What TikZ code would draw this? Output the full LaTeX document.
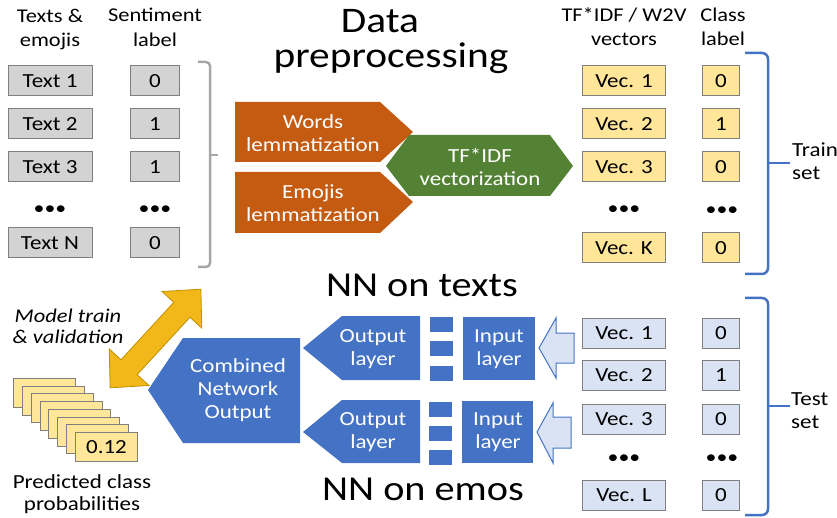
\documentclass[tikz,border=0pt]{standalone}
\usepackage{fontspec}
\setmainfont[FakeStretch=1.15]{Carlito}
\newcommand\fsz[2]{\fontsize{#1}{#2}\selectfont}
\definecolor{orng}{HTML}{C55A11}
\definecolor{grn}{HTML}{548235}
\definecolor{blu}{HTML}{4472C4}
\definecolor{lblu}{HTML}{DAE3F3}
\definecolor{ylw}{HTML}{FFE699}
\definecolor{gryf}{HTML}{D3D3D3}
\definecolor{bord}{HTML}{7F7F7F}
\definecolor{gold}{HTML}{F2B718}
\definecolor{golddk}{HTML}{BF9000}
\definecolor{brk}{HTML}{A6A6A6}
\begin{document}
\begin{tikzpicture}[x=1pt,y=-1pt,
  hdr/.style={anchor=base, inner sep=0, font=\fsz{19.5}{24}},
  big/.style={anchor=base, inner sep=0, font=\fsz{36}{40}},
  cell/.style={draw=bord, line width=1pt, minimum height=30, inner sep=0, font=\fsz{20}{22}},
  gcell/.style={cell, fill=gryf},
  ycell/.style={cell, fill=ylw},
  bcell/.style={cell, fill=lblu},
  dots/.style={inner sep=0, font=\fsz{19}{22}},
  wtxt/.style={align=center, text=white, inner sep=0, font=\fsz{20}{23}},
  sidetxt/.style={anchor=base west, inner sep=0, font=\fsz{20}{23}},
]
\useasboundingbox (0,0) rectangle (837,518);

% headers
\node[hdr] (h1a) at (50,23) {Texts \&};
\node[hdr] (h1b) at (50,47) {emojis};
\node[hdr] (h2a) at (155,22) {Sentiment};
\node[hdr] (h2b) at (155,47) {label};
\node[hdr] (h3a) at (624,22) {TF*IDF / W2V};
\node[hdr] (h3b) at (624,46) {vectors};
\node[hdr] (h4a) at (723,22) {Class};
\node[hdr] (h4b) at (723,46) {label};

% left gray column
\node[gcell, minimum width=84] (t1) at (50,81) {Text 1};
\node[gcell, minimum width=84] (t2) at (50,124) {Text 2};
\node[gcell, minimum width=84] (t3) at (50,167) {Text 3};
\node[dots] (td) at (50,210) {•••};
\node[gcell, minimum width=84] (tn) at (50,243) {Text N};
\node[gcell, minimum width=49] (s1) at (155,81) {0};
\node[gcell, minimum width=49] (s2) at (155,124) {1};
\node[gcell, minimum width=49] (s3) at (155,167) {1};
\node[dots] (sd) at (155,210) {•••};
\node[gcell, minimum width=49] (sn) at (155,243) {0};

% gray bracket
\draw[brk, line width=2.5pt, rounded corners=4pt] (198,62) -- (210,62) -- (210,267) -- (198,267);
\draw[brk, line width=2.5pt] (210,155) -- (218,155);

% title
\node[big] (ttl1) at (380,33) {Data};
\node[big] (ttl2) at (391,68) {preprocessing};

% orange pentagons
\fill[orng] (235,102) -- (380,102) -- (413,132) -- (380,162) -- (235,162) -- cycle;
\node[wtxt] (words) at (313,133) {Words\\lemmatization};
\fill[orng] (235,172) -- (380,172) -- (413,202) -- (380,233) -- (235,233) -- cycle;
\node[wtxt] (emoj) at (313,203) {Emojis\\lemmatization};

% green hexagon
\fill[grn] (386,166) -- (409,135) -- (550,135) -- (573,166) -- (550,196) -- (409,196) -- cycle;
\node[wtxt] (tfidf) at (480,167) {TF*IDF\\vectorization};

% right top yellow
\node[ycell, minimum width=83] (v1) at (624,81) {Vec. 1};
\node[ycell, minimum width=83] (v2) at (624,124) {Vec. 2};
\node[ycell, minimum width=83] (v3) at (624,167) {Vec. 3};
\node[dots] (vd) at (624,210) {•••};
\node[ycell, minimum width=83] (vk) at (624,248) {Vec. K};
\node[ycell, minimum width=37] (c1) at (721,81) {0};
\node[ycell, minimum width=37] (c2) at (721,124) {1};
\node[ycell, minimum width=37] (c3) at (721,167) {0};
\node[dots] (cd) at (722,211) {•••};
\node[ycell, minimum width=37] (ck) at (721,248) {0};

% train bracket
\draw[blu, line width=2.5pt, rounded corners=6pt] (745,53) -- (768,53) -- (768,274) -- (745,274);
\draw[blu, line width=2.5pt] (768,163) -- (790,163);
\node[sidetxt] (tr1) at (792,157) {Train};
\node[sidetxt] (tr2) at (792,180) {set};

% NN titles
\node[big, font=\fsz{35}{40}] (nn1) at (422,297) {NN on texts};
\node[big, font=\fsz{35}{40}] (nn2) at (423,500) {NN on emos};

% blue output layers
\fill[blu] (303,348) -- (342,316) -- (420,316) -- (420,380) -- (342,380) -- cycle;
\node[wtxt] (out1) at (373,349) {Output\\layer};
\fill[blu] (303,432) -- (342,400) -- (420,400) -- (420,463) -- (342,463) -- cycle;
\node[wtxt] (out2) at (373,432) {Output\\layer};

% hidden squares
\foreach \yy in {317,341,366} {
  \fill[blu] (430,\yy) rectangle (453,\yy+15);
}
\foreach \yy in {402,426,450} {
  \fill[blu] (429,\yy) rectangle (452,\yy+15);
}

% input layers
\fill[blu] (463,317) rectangle (535,380);
\node[wtxt] (in1) at (499,349) {Input\\layer};
\fill[blu] (462,401) rectangle (533,463);
\node[wtxt] (in2) at (498,432) {Input\\layer};

% light blue arrows
\filldraw[fill=lblu, draw=blu, line width=1pt, line join=miter]
  (539,348) -- (556,318) -- (556,333) -- (574,333) -- (574,363) -- (556,363) -- (556,378) -- cycle;
\filldraw[fill=lblu, draw=blu, line width=1pt, line join=miter]
  (537,432) -- (553,403) -- (553,417) -- (571,417) -- (571,448) -- (553,448) -- (553,463) -- cycle;

% combined output
\fill[blu] (148,390) -- (183,338) -- (300,338) -- (300,443) -- (183,443) -- cycle;
\node[wtxt] (comb) at (238,390) {Combined\\Network\\Output};

% double arrow
\begin{scope}[shift={(155.5,338.5)}, rotate=47.4]
  \filldraw[fill=gold, draw=golddk, line width=0.8pt, line join=miter]
    (67,0) -- (39,27) -- (39,11) -- (-39,11) -- (-39,27) -- (-67,0)
    -- (-39,-27) -- (-39,-11) -- (39,-11) -- (39,-27) -- cycle;
\end{scope}
\node[anchor=base, inner sep=0, font=\fsz{19.5}{22}\itshape] (mt1) at (68,322) {Model train};
\node[anchor=base, inner sep=0, font=\fsz{19.5}{22}\itshape] (mt2) at (68,343) {\& validation};

% stacked cards
\foreach \i in {0,...,6} {
  \node[cell, fill=ylw, minimum width=62, minimum height=29, anchor=north west] (card\i) at (13+8.86*\i,378+7.71*\i) {};
}
\node[cell, fill=ylw, minimum width=62, minimum height=29, anchor=north west] (card7) at (75,432) {0.12};
\node[hdr, font=\fsz{20}{22}] (pc1) at (82,488) {Predicted class};
\node[hdr, font=\fsz{20}{22}] (pc2) at (82,510) {probabilities};

% bottom right light blue
\node[bcell, minimum width=83] (w1) at (624,333) {Vec. 1};
\node[bcell, minimum width=83] (w2) at (624,375) {Vec. 2};
\node[bcell, minimum width=83] (w3) at (624,419) {Vec. 3};
\node[dots] (wd) at (624,459) {•••};
\node[bcell, minimum width=83] (wl) at (624,495) {Vec. L};
\node[bcell, minimum width=37] (e1) at (721,333) {0};
\node[bcell, minimum width=37] (e2) at (721,375) {1};
\node[bcell, minimum width=37] (e3) at (721,419) {0};
\node[dots] (ed) at (722,459) {•••};
\node[bcell, minimum width=37] (el) at (721,495) {0};

% test bracket
\draw[blu, line width=2.5pt, rounded corners=6pt] (745,298) -- (768,298) -- (768,515) -- (745,515);
\draw[blu, line width=2.5pt] (768,406) -- (790,406);
\node[sidetxt] (te1) at (791,405) {Test};
\node[sidetxt] (te2) at (791,428) {set};
\end{tikzpicture}
\end{document}
